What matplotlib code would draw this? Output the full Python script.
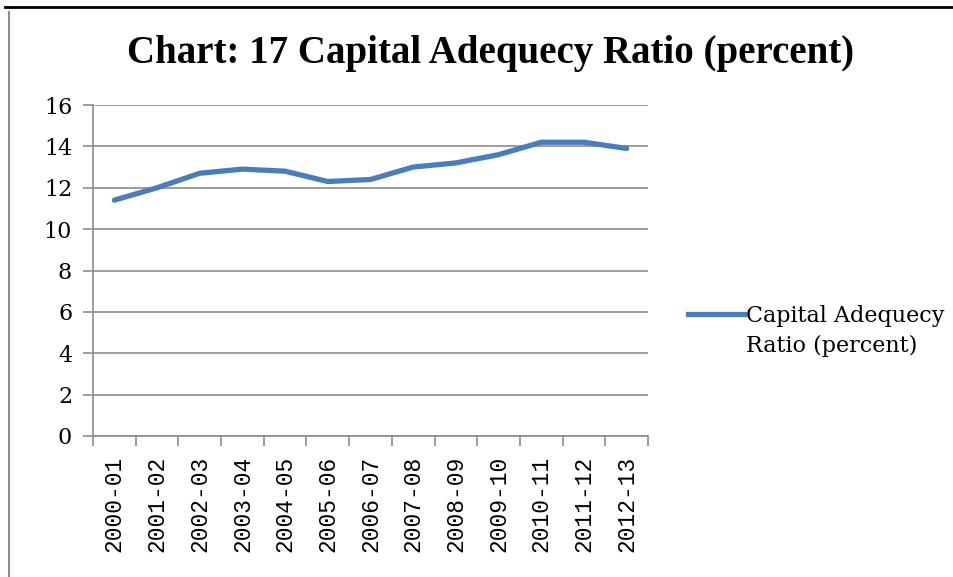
import matplotlib.pyplot as plt
import numpy as np
from matplotlib.lines import Line2D

years = ["2000-01", "2001-02", "2002-03", "2003-04", "2004-05", "2005-06", "2006-07",
         "2007-08", "2008-09", "2009-10", "2010-11", "2011-12", "2012-13"]
car = [11.4, 12.0, 12.7, 12.9, 12.8, 12.3, 12.4, 13.0, 13.2, 13.6, 14.2, 14.2, 13.9]

plt.rcParams['font.family'] = ['DejaVu Serif']
blue = '#4a7ebb'
grey = '#8c8c8c'

fig = plt.figure(figsize=(9.54, 5.77), dpi=100)
ax = fig.add_axes([93/954, 1-436/577, (648-93)/954, (436-105)/577])

x = np.arange(len(years))
ax.plot(x, car, color=blue, lw=3.8, solid_capstyle='round', solid_joinstyle='round')

ax.set_xlim(-0.5, len(years)-0.5)
ax.set_ylim(0, 16)
ax.set_yticks(range(0, 17, 2))
ax.yaxis.grid(True, color=grey, lw=1.2)
ax.set_axisbelow(True)

ax.set_xticks(x)
ax.set_xticklabels(years, rotation=90, fontsize=16.5, family='Liberation Mono')
ax.tick_params(axis='x', length=0, pad=14)
ax.set_xticks(np.arange(-0.5, len(years)), minor=True)
ax.tick_params(axis='x', which='minor', length=7, color=grey, width=1.2, direction='out')
ax.tick_params(axis='y', length=7, color=grey, width=1.2, labelsize=16, pad=8)

for s in ['top', 'right']:
    ax.spines[s].set_visible(False)
for s in ['left', 'bottom']:
    ax.spines[s].set_color(grey)
    ax.spines[s].set_linewidth(1.2)

fig.text(0.514, 1-53/577, "Chart: 17 Capital Adequecy Ratio (percent)", ha='center', va='center',
         fontsize=28, fontweight='bold', family='Liberation Serif')

# legend label wraps onto a second line, handle sits on the first line
leg = fig.legend(handles=[Line2D([0], [0], color=blue, lw=3.8), Line2D([0], [0], color='none')],
                 labels=["Capital Adequecy", "Ratio (percent)"],
                 loc='center left', bbox_to_anchor=(688/954, 1-331/577), frameon=False,
                 borderaxespad=0, borderpad=0, fontsize=16, handlelength=2.5, handletextpad=0.1,
                 labelspacing=0.35)

# page frame
fig.add_artist(Line2D([5/954, 1], [1-7/577, 1-7/577], color='black', lw=2))
fig.add_artist(Line2D([9/954, 9/954], [0, 1-12/577], color=grey, lw=1.5))

plt.savefig('out.png', dpi=100)
